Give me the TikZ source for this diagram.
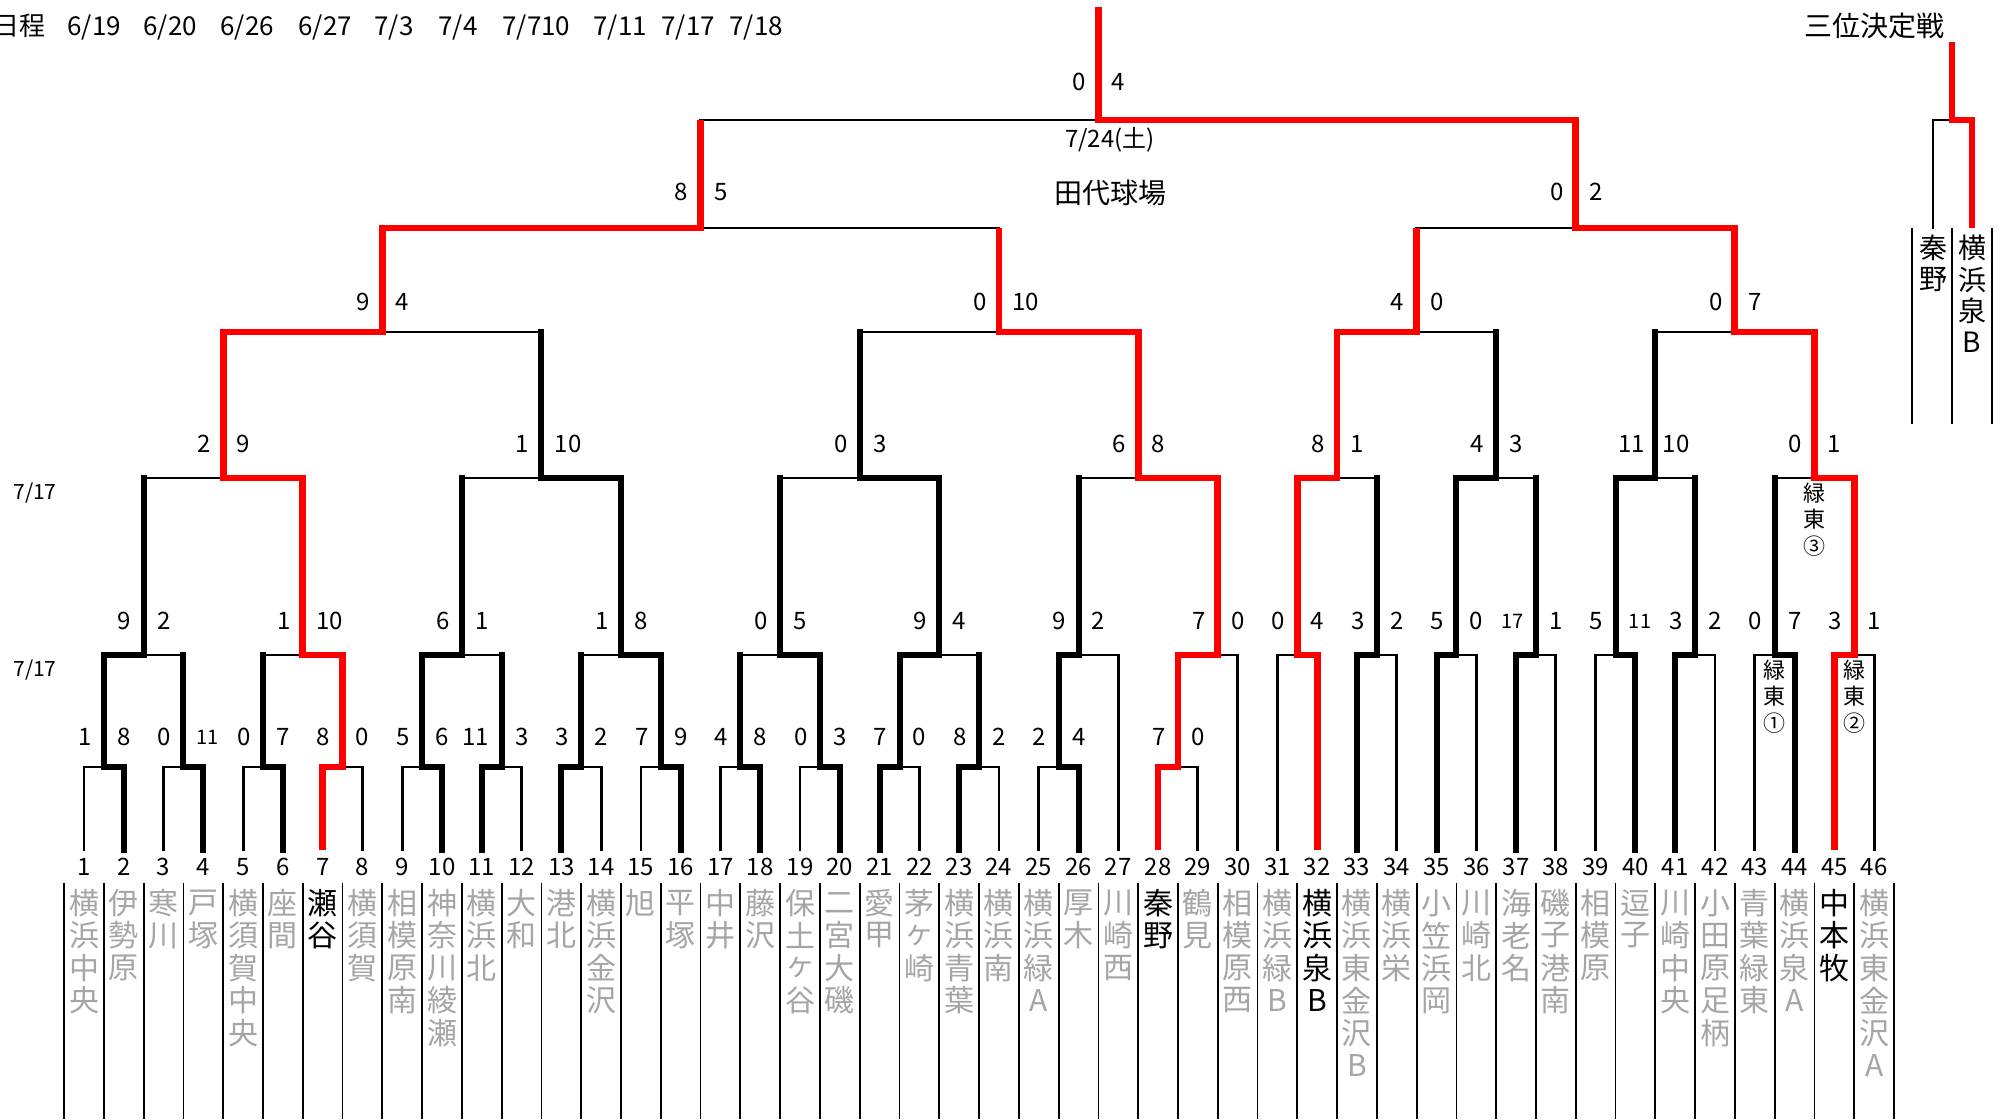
\documentclass[tikz,border=0pt]{standalone}
\usepackage{fontspec}
\setmainfont{Noto Sans CJK JP}
\definecolor{tg}{RGB}{165,165,165}
\definecolor{rd}{RGB}{255,0,0}
\newcommand\smfont{\fontsize{10pt}{12pt}\selectfont}
\begin{document}
\begin{tikzpicture}[x=0.5pt,y=-0.5pt,
  lnthin/.style={draw=black,line width=1.4pt,line cap=rect},
  lnthick/.style={draw=black,line width=3pt,line cap=rect},
  lnred/.style={draw=rd,line width=3.4pt,line cap=butt,line join=miter},
  lnsep/.style={draw=black,line width=0.9pt},
  sc/.style={inner sep=0pt,font=\fontsize{12pt}{14pt}\selectfont},
  sl/.style={sc,anchor=east,xshift=-6pt},
  sr/.style={sc,anchor=west,xshift=6.5pt},
  tname/.style={inner sep=0pt,font=\fontsize{15pt}{17pt}\selectfont},
  lbl/.style={inner sep=0pt,font=\fontsize{11pt}{13pt}\selectfont},
  hdr/.style={inner sep=0pt,anchor=base west,font=\fontsize{13pt}{15pt}\selectfont},
  big/.style={inner sep=0pt,font=\fontsize{14pt}{16pt}\selectfont},
]
\useasboundingbox (0,0) rectangle (2007,1119);

% ---------- header ----------
\node[hdr,anchor=base east] (hd0) at (46,35) {日程};
\foreach \x/\t [count=\i] in {67/6\slash19,143/6\slash20,220/6\slash26,298/6\slash27,374/7\slash3,438/7\slash4,502/7\slash710,593/7\slash11,661/7\slash17,729/7\slash18}
  \node[hdr] (hd\i) at (\x,35) {\t};
\node[inner sep=0pt,anchor=west,font=\fontsize{10.5pt}{12pt}\selectfont] (dl1) at (13,493) {7/17};
\node[inner sep=0pt,anchor=west,font=\fontsize{10.5pt}{12pt}\selectfont] (dl2) at (13,670) {7/17};
\node[sc,anchor=base] (fdate) at (1110,147) {7/24(土)};
\node[big] (fplace) at (1110,193) {田代球場};
\node[big] (third) at (1874,26) {三位決定戦};

% ---------- third place ----------
\draw[lnthin] (1933,228) -- (1933,120) -- (1952,120);
\draw[lnred] (1952,42) -- (1952,120) -- (1972,120) -- (1972,228);
\foreach \x in {1912,1952,1992} \draw[line width=1.35pt] (\x,228) -- (\x,424);
\foreach \c [count=\i] in {秦,野}
  \node[big] (tp1-\i) at (1933,{248+(\i-1)*31.5}) {\c};
\foreach \c [count=\i] in {横,浜,泉,B}
  \node[big] (tp2-\i) at (1972,{248+(\i-1)*31.5}) {\c};

\begin{scope}[x=19.89pt,xshift=22.11pt]
% ---------- thin black ----------
\foreach \k in {1,3,5,8,9,12,14,15,17,19,22,24,25,29} \draw[lnthin] (\k,850) -- (\k,767);
\foreach \k in {27,30,31,34,36,38,39,42,43,46} \draw[lnthin] (\k,850) -- (\k,655);
\foreach \a/\b in {1/1.5,3/3.5,5/5.5,8/7.5,9/9.5,12/11.5,14/13.5,15/15.5,17/17.5,19/19.5,22/21.5,24/23.5,25/25.5,29/28.5}
  \draw[lnthin] (\a,767) -- (\b,767);
\foreach \a/\b in {3.5/2.5,5.5/6.5,11.5/10.5,13.5/14.5,17.5/18.5,23.5/22.5,27/26,30/29.5,31/31.5,34/33.5,36/35.5,38/37.5,39/39.5,42/41.5,43/43.5,46/45.5}
  \draw[lnthin] (\a,655) -- (\b,655);
\foreach \a/\b in {2.5/4.5,10.5/12.5,18.5/20.5,26/27.5,33.5/32.5,37.5/36.5,41.5/40.5,43.5/44.5}
  \draw[lnthin] (\a,478) -- (\b,478);
\foreach \a/\b in {12.5/8.5,20.5/24,36.5/34.5,40.5/42.5}
  \draw[lnthin] (\a,332) -- (\b,332);
\foreach \a/\b in {24/16.5,34.5/38.5}
  \draw[lnthin] (\a,228) -- (\b,228);
\draw[lnthin] (16.5,120) -- (26.5,120);

% ---------- thick black ----------
\foreach \k in {2,4,6,10,11,13,16,18,20,21,23,26} \draw[lnthick] (\k,850) -- (\k,767);
\foreach \k in {33,35,37,40,41,44} \draw[lnthick] (\k,850) -- (\k,655);
\foreach \a/\b in {2/1.5,4/3.5,6/5.5,10/9.5,11/11.5,13/13.5,16/15.5,18/17.5,20/19.5,21/21.5,23/23.5,26/25.5}
  \draw[lnthick] (\a,767) -- (\b,767);
\foreach \v in {1.5,3.5,5.5,9.5,11.5,13.5,15.5,17.5,19.5,21.5,23.5,25.5}
  \draw[lnthick] (\v,767) -- (\v,655);
\foreach \a/\b in {1.5/2.5,9.5/10.5,15.5/14.5,19.5/18.5,21.5/22.5,25.5/26,33/33.5,35/35.5,37/37.5,40/39.5,41/41.5,44/43.5}
  \draw[lnthick] (\a,655) -- (\b,655);
\foreach \v in {2.5,10.5,14.5,18.5,22.5,26,33.5,35.5,37.5,39.5,41.5,43.5}
  \draw[lnthick] (\v,655) -- (\v,478);
\foreach \a/\b in {14.5/12.5,22.5/20.5,35.5/36.5,39.5/40.5}
  \draw[lnthick] (\a,478) -- (\b,478);
\foreach \v in {12.5,20.5,36.5,40.5}
  \draw[lnthick] (\v,478) -- (\v,332);

% ---------- red paths ----------
\draw[lnred] (7,850) -- (7,767) -- (7.5,767) -- (7.5,655) -- (6.5,655) -- (6.5,478) -- (4.5,478) -- (4.5,332) -- (8.5,332) -- (8.5,228) -- (16.5,228) -- (16.5,120);
\draw[lnred] (28,850) -- (28,767) -- (28.5,767) -- (28.5,655) -- (29.5,655) -- (29.5,478) -- (27.5,478) -- (27.5,332) -- (24,332) -- (24,228);
\draw[lnred] (32,850) -- (32,655) -- (31.5,655) -- (31.5,478) -- (32.5,478) -- (32.5,332) -- (34.5,332) -- (34.5,228);
\draw[lnred] (45,850) -- (45,655) -- (45.5,655) -- (45.5,478) -- (44.5,478) -- (44.5,332) -- (42.5,332) -- (42.5,228) -- (38.5,228) -- (38.5,120) -- (26.5,120) -- (26.5,7);

% ---------- scores ----------
\foreach \v/\l/\r [count=\i] in {1.5/1/8,3.5/0/{\smfont 11},5.5/0/7,7.5/8/0,9.5/5/6,11.5/11/3,13.5/3/2,15.5/7/9,17.5/4/8,19.5/0/3,21.5/7/0,23.5/8/2,25.5/2/4,28.5/7/0}
  {\node[sl] (ra\i) at (\v,737) {\l}; \node[sr] (rb\i) at (\v,737) {\r};}
\foreach \v/\l/\r [count=\i] in {2.5/9/2,6.5/1/10,10.5/6/1,14.5/1/8,18.5/0/5,22.5/9/4,26/9/2,29.5/7/0,31.5/0/4,33.5/3/2,35.5/5/0,37.5/{\smfont 17}/1,39.5/5/{\smfont 11},41.5/3/2,43.5/0/7,45.5/3/1}
  {\node[sl] (sa\i) at (\v,621) {\l}; \node[sr] (sb\i) at (\v,621) {\r};}
\foreach \v/\l/\r [count=\i] in {4.5/2/9,12.5/1/10,20.5/0/3,27.5/6/8,32.5/8/1,36.5/4/3,44.5/0/1}
  {\node[sl] (ta\i) at (\v,444) {\l}; \node[sr] (tb\i) at (\v,444) {\r};}
\node[sc,anchor=east,xshift=-5pt] (ta8) at (40.5,444) {11};
\node[sc,anchor=west,xshift=3.5pt] (tb8) at (40.5,444) {10};
\foreach \v/\l/\r [count=\i] in {8.5/9/4,24/0/10,34.5/4/0,42.5/0/7}
  {\node[sl] (ua\i) at (\v,302) {\l}; \node[sr] (ub\i) at (\v,302) {\r};}
\foreach \v/\l/\r [count=\i] in {16.5/8/5,38.5/0/2}
  {\node[sl] (va\i) at (\v,192) {\l}; \node[sr] (vb\i) at (\v,192) {\r};}
\node[sl] (wa) at (26.5,82) {0};
\node[sr] (wb) at (26.5,82) {4};

% ---------- 緑東 labels ----------
\foreach \c [count=\i] in {緑,東,①} \node[lbl] (mA\i) at (43.5,{670+(\i-1)*26.5}) {\c};
\foreach \c [count=\i] in {緑,東,②} \node[lbl] (mB\i) at (45.5,{670+(\i-1)*26.5}) {\c};
\foreach \c [count=\i] in {緑,東,③} \node[lbl] (mC\i) at (44.5,{493+(\i-1)*26.5}) {\c};

% ---------- team numbers ----------
\foreach \k in {1,...,46} \node[sc] (no\k) at (\k,867) {\k};

% ---------- name separators ----------
\foreach \k in {1,...,47} \draw[lnsep] (\k-0.5,883) -- (\k-0.5,1119);

% ---------- team names ----------
\foreach \k/\cl/\nm in {
 1/tg/{横,浜,中,央},2/tg/{伊,勢,原},3/tg/{寒,川},4/tg/{戸,塚},5/tg/{横,須,賀,中,央},
 6/tg/{座,間},7/black/{瀬,谷},8/tg/{横,須,賀},9/tg/{相,模,原,南},10/tg/{神,奈,川,綾,瀬},
 11/tg/{横,浜,北},12/tg/{大,和},13/tg/{港,北},14/tg/{横,浜,金,沢},15/tg/{旭},
 16/tg/{平,塚},17/tg/{中,井},18/tg/{藤,沢},19/tg/{保,土,ヶ,谷},20/tg/{二,宮,大,磯},
 21/tg/{愛,甲},22/tg/{茅,ヶ,崎},23/tg/{横,浜,青,葉},24/tg/{横,浜,南},25/tg/{横,浜,緑,A},
 26/tg/{厚,木},27/tg/{川,崎,西},28/black/{秦,野},29/tg/{鶴,見},30/tg/{相,模,原,西},
 31/tg/{横,浜,緑,B},32/black/{横,浜,泉,B},33/tg/{横,浜,東,金,沢,B},34/tg/{横,浜,栄},35/tg/{小,笠,浜,岡},
 36/tg/{川,崎,北},37/tg/{海,老,名},38/tg/{磯,子,港,南},39/tg/{相,模,原},40/tg/{逗,子},
 41/tg/{川,崎,中,央},42/tg/{小,田,原,足,柄},43/tg/{青,葉,緑,東},44/tg/{横,浜,泉,A},45/black/{中,本,牧},
 46/tg/{横,浜,東,金,沢,A}}
  \foreach \c [count=\i] in \nm
    \node[tname,text=\cl] (tn\k-\i) at (\k,{903+(\i-1)*32.5}) {\c};
\end{scope}
\end{tikzpicture}
\end{document}
